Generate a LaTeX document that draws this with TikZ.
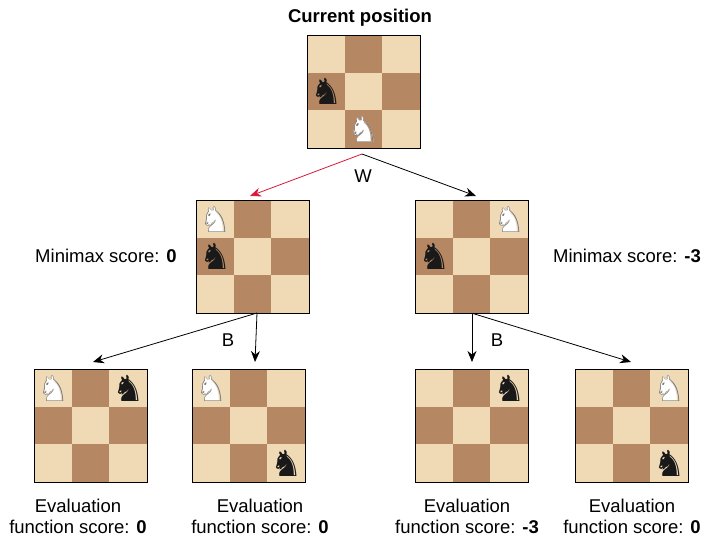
\documentclass[tikz,border=0pt]{standalone}
\usepackage{fontspec}
\setmainfont{Liberation Sans}
\newfontfamily\chessfont{DejaVu Sans}
\definecolor{lightsq}{HTML}{F0D9B5}
\definecolor{darksq}{HTML}{B58863}
\definecolor{redarrow}{HTML}{D9173A}
\usetikzlibrary{calc,arrows.meta}
\tikzset{
  board/.style={draw=none,minimum size=112pt,inner sep=0pt},
  lbl/.style={font=\fontsize{18.5}{21}\selectfont,align=center},
  conn/.style={-{Stealth[length=11pt,width=9pt]},line width=0.8pt},
}
\newcommand{\drawboard}[1]{%
  \foreach \r in {0,1,2}{\foreach \c in {0,1,2}{%
    \pgfmathtruncatemacro{\myparity}{mod(\r+\c,2)}%
    \ifnum\myparity=0 \def\sq{lightsq}\else\def\sq{darksq}\fi
    \fill[\sq] ($(#1.north west)+(\c*37.33,\r*37.33)$) rectangle ++(37.33,37.33);}}%
  \draw[line width=1.2pt] (#1.north west) rectangle (#1.south east);}
\newcommand{\wknight}[3]{%
  \node[inner sep=0pt,font=\chessfont\fontsize{36}{36}\selectfont,text=white] at ($(#1.north west)+(#3*37.33+18.7,#2*37.33+18.7)$) {♞};
  \node[inner sep=0pt,font=\chessfont\fontsize{36}{36}\selectfont,text=black!55] at ($(#1.north west)+(#3*37.33+18.7,#2*37.33+18.7)$) {♘};}
\newcommand{\bknight}[3]{%
  \node[inner sep=0pt,font=\chessfont\fontsize{36}{36}\selectfont,text=black!90] at ($(#1.north west)+(#3*37.33+18.7,#2*37.33+18.7)$) {♞};}
\begin{document}
\begin{tikzpicture}[x=1pt,y=-1pt]
\useasboundingbox (0,0) rectangle (724,549);
\node[board] (top) at (364,92) {};
\node[board] (ml) at (253,257) {};
\node[board] (mr) at (472,257) {};
\node[board] (b1) at (91,426) {};
\node[board] (b2) at (249,426) {};
\node[board] (b3) at (472,426) {};
\node[board] (b4) at (632,426) {};
\foreach \b in {top,ml,mr,b1,b2,b3,b4}{\drawboard{\b}}
\bknight{top}{1}{0}\wknight{top}{2}{1}
\wknight{ml}{0}{0}\bknight{ml}{1}{0}
\wknight{mr}{0}{2}\bknight{mr}{1}{0}
\wknight{b1}{0}{0}\bknight{b1}{0}{2}
\wknight{b2}{0}{0}\bknight{b2}{2}{2}
\bknight{b3}{0}{2}
\wknight{b4}{0}{2}\bknight{b4}{2}{2}
\coordinate (ts) at (362,154);
\draw[conn,redarrow] (ts) -- (250,196);
\draw[conn] (ts) -- (476,196);
\node[lbl] (w) at (363,176) {W};
\coordinate (mls) at (257,313);
\draw[conn] (mls) -- (93,362);
\draw[conn] (mls) -- (255,362);
\node[lbl] (bl) at (228,340) {B};
\draw[conn] (mr.south) -- (472,362);
\draw[conn] (mr.south) -- (631,362);
\node[lbl] (br) at (497,340) {B};
\node[lbl] (cp) at (360,18) {\textbf{Current position}};
\node[lbl] (ms1) at (106,256) {Minimax score: \textbf{0}};
\node[lbl] (ms2) at (627,256) {Minimax score: \textbf{-3}};
\node[lbl] (e1) at (78,516) {Evaluation\\function score: \textbf{0}};
\node[lbl] (e2) at (260,516) {Evaluation\\function score: \textbf{0}};
\node[lbl] (e3) at (467,516) {Evaluation\\function score: \textbf{-3}};
\node[lbl] (e4) at (632,516) {Evaluation\\function score: \textbf{0}};
\end{tikzpicture}
\end{document}
